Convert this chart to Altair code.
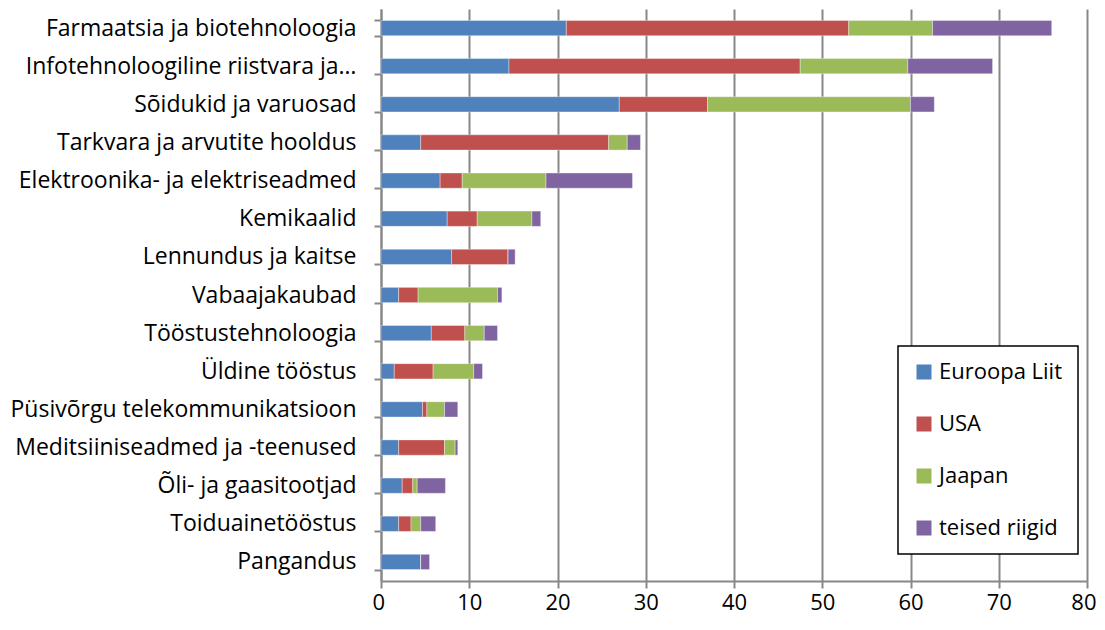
import altair as alt
import pandas as pd

categories = [
    "Farmaatsia ja biotehnoloogia",
    "Infotehnoloogiline riistvara ja…",
    "Sõidukid ja varuosad",
    "Tarkvara ja arvutite hooldus",
    "Elektroonika- ja elektriseadmed",
    "Kemikaalid",
    "Lennundus ja kaitse",
    "Vabaajakaubad",
    "Tööstustehnoloogia",
    "Üldine tööstus",
    "Püsivõrgu telekommunikatsioon",
    "Meditsiiniseadmed ja -teenused",
    "Õli- ja gaasitootjad",
    "Toiduainetööstus",
    "Pangandus",
]
series = ["Euroopa Liit", "USA", "Jaapan", "teised riigid"]
eu = [21, 14.5, 27, 4.5, 6.7, 7.5, 8, 2, 5.7, 1.5, 4.7, 2, 2.4, 2, 4.5]
usa = [32, 33, 10, 21.3, 2.5, 3.4, 6.4, 2.2, 3.8, 4.4, 0.5, 5.2, 1.2, 1.4, 0]
jp = [9.5, 12.2, 23, 2.1, 9.5, 6.2, 0, 9.0, 2.2, 4.6, 2.0, 1.2, 0.5, 1.1, 0]
other = [13.5, 9.6, 2.7, 1.5, 9.8, 1.0, 0.8, 0.5, 1.5, 1.0, 1.5, 0.3, 3.2, 1.7, 1.0]
colors = ["#4F81BD", "#C0504D", "#9BBB59", "#8064A2"]
x_ticks = [0, 10, 20, 30, 40, 50, 60, 70, 80]

rows = []
for si, (name, vals) in enumerate(zip(series, [eu, usa, jp, other])):
    for c, v in zip(categories, vals):
        rows.append({"sektor": c, "piirkond": name, "vaartus": v, "jrk": si})
df = pd.DataFrame(rows)

FONT = "Open Sans"
GRAY = "#888888"

chart = (
    alt.Chart(df)
    .mark_bar(stroke="#ffffff", strokeWidth=0.8, strokeOpacity=0.45)
    .encode(
        y=alt.Y(
            "sektor:N",
            sort=categories,
            title=None,
            scale=alt.Scale(paddingInner=0.6, paddingOuter=0.3),
            axis=alt.Axis(
                tickBand="extent",
                tickSize=7,
                tickColor=GRAY,
                tickWidth=2,
                domainColor=GRAY,
                domainWidth=2,
                labelFontSize=23,
                labelFont=FONT,
                labelColor="#000000",
                labelPadding=18,
                labelLimit=400,
                grid=False,
            ),
        ),
        x=alt.X(
            "vaartus:Q",
            stack="zero",
            title=None,
            scale=alt.Scale(domain=[0, 80], nice=False),
            axis=alt.Axis(
                values=x_ticks,
                tickSize=7,
                tickColor=GRAY,
                tickWidth=2,
                domainColor=GRAY,
                domainWidth=2,
                gridColor=GRAY,
                gridWidth=2,
                labelFontSize=22,
                labelFont=FONT,
                labelColor="#000000",
                labelPadding=4,
                labelFlush=True,
                labelFlushOffset=9,
            ),
        ),
        color=alt.Color(
            "piirkond:N",
            scale=alt.Scale(domain=series, range=colors),
            legend=alt.Legend(
                title=None,
                orient="none",
                legendX=517,
                legendY=337,
                symbolType="square",
                symbolSize=225,
                symbolStrokeWidth=0,
                labelFontSize=22,
                labelFont=FONT,
                labelColor="#000000",
                labelOffset=4,
                rowPadding=30,
                padding=15,
                strokeColor="#000000",
                fillColor="#ffffff",
            ),
        ),
        order=alt.Order("jrk:Q", sort="ascending"),
    )
    .properties(
        width=706,
        height=572,
        autosize=alt.AutoSizeParams(type="none"),
        padding={"left": 373, "top": 1, "right": 10, "bottom": 40},
    )
    .configure_view(stroke=None)
    .configure_legend(strokeWidth=1.5)
)

chart.save("out.html", embed_options={"renderer": "svg", "actions": False})
